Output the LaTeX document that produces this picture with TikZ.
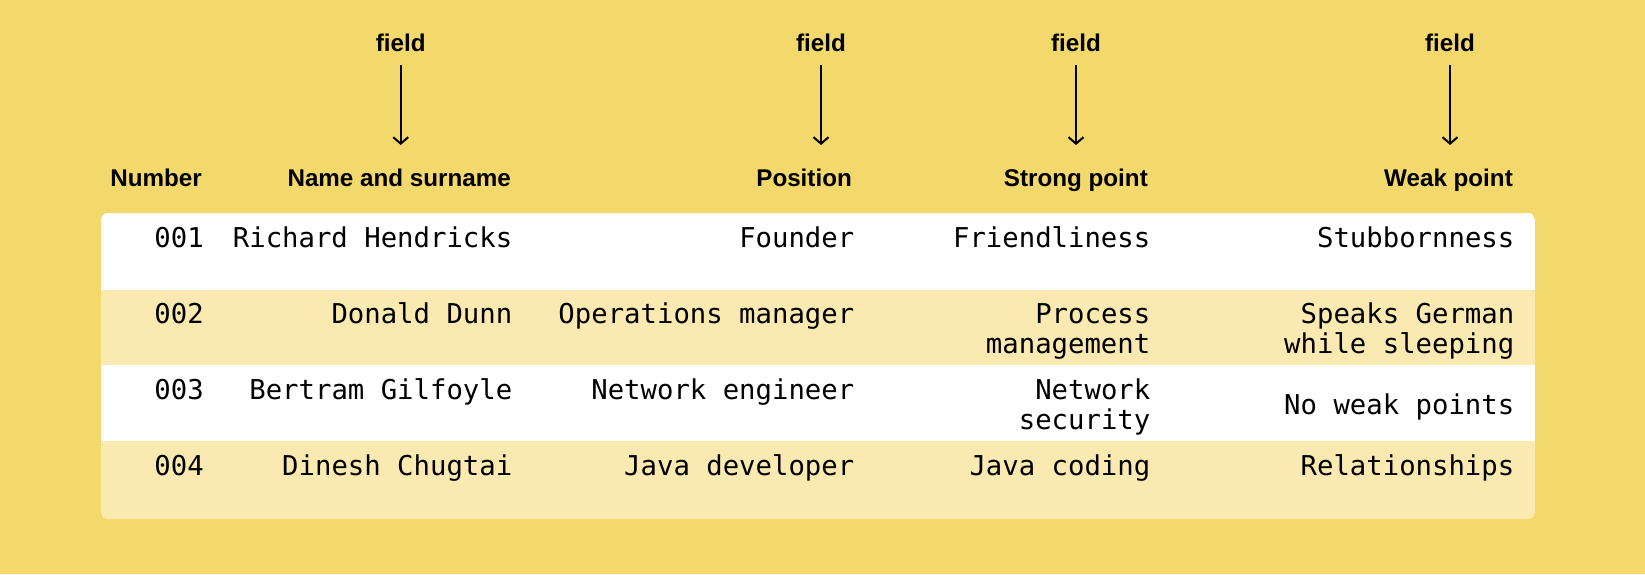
\documentclass[tikz,border=0pt]{standalone}
\usepackage{fontspec}
\setmainfont{Liberation Sans}
\newfontfamily\monof{DejaVu Sans Mono}
\usetikzlibrary{arrows.meta}
\definecolor{bgyellow}{HTML}{F3D86B}
\definecolor{rowlight}{HTML}{FAE9B0}
\begin{document}
\begin{tikzpicture}[x=1pt,y=-1pt,
  hdr/.style={font=\fontsize{24.2}{26}\selectfont\bfseries, inner sep=0pt, anchor=base east},
  fieldlbl/.style={font=\fontsize{24.2}{26}\selectfont\bfseries, inner sep=0pt, anchor=base},
  cell/.style={font=\monof\fontsize{27.3}{30.5}\selectfont, inner sep=0pt, anchor=base east, xshift=2.5pt},
  arr/.style={line width=2pt, -{Straight Barb[length=6.5pt,width=15pt,line width=2pt]}, shorten <=13.3pt}
]
\useasboundingbox (0,0) rectangle (1645,574);
\fill[bgyellow] (0,0) rectangle (1645,574);

% table rows
\begin{scope}
  \clip[rounded corners=7pt] (101,213) rectangle (1535,519);
  \fill[white]    (101,213)    rectangle (1535,289.5);
  \fill[rowlight] (101,289.5)  rectangle (1535,365);
  \fill[white]    (101,365)    rectangle (1535,441);
  \fill[rowlight] (101,441)    rectangle (1535,519);
\end{scope}

% field labels and arrows
\node[fieldlbl] (f1) at (400.7,51.7) {field};
\node[fieldlbl] (f2) at (821,51.7) {field};
\node[fieldlbl] (f3) at (1076,51.7) {field};
\node[fieldlbl] (f4) at (1450,51.7) {field};
\coordinate (e1) at (400.7,145);
\coordinate (e2) at (821,145);
\coordinate (e3) at (1076,145);
\coordinate (e4) at (1450,145);
\draw[arr] (f1.south) -- (e1);
\draw[arr] (f2.south) -- (e2);
\draw[arr] (f3.south) -- (e3);
\draw[arr] (f4.south) -- (e4);

% headers
\node[hdr] (hnum) at (202,186.7) {Number};
\node[hdr] (hname) at (511,186.7) {Name and surname};
\node[hdr] (hpos) at (852,186.7) {Position};
\node[hdr] (hstr) at (1148,186.7) {Strong point};
\node[hdr] (hweak) at (1513,186.7) {Weak point};

% row 1
\node[cell] (r1a) at (201.5,247.5) {001};
\node[cell] (r1b) at (510,247.5) {Richard Hendricks};
\node[cell] (r1c) at (852,247.5) {Founder};
\node[cell] (r1d) at (1148,247.5) {Friendliness};
\node[cell] (r1e) at (1512,247.5) {Stubbornness};

% row 2
\node[cell] (r2a) at (201.5,323) {002};
\node[cell] (r2b) at (510,323) {Donald Dunn};
\node[cell] (r2c) at (852,323) {Operations manager};
\node[cell] (r2d) at (1148,323) {\begin{tabular}[t]{@{}r@{}}Process\\management\end{tabular}};
\node[cell] (r2e) at (1512,323) {\begin{tabular}[t]{@{}r@{}}Speaks German\\while sleeping\end{tabular}};

% row 3
\node[cell] (r3a) at (201.5,399.3) {003};
\node[cell] (r3b) at (510,399.3) {Bertram Gilfoyle};
\node[cell] (r3c) at (852,399.3) {Network engineer};
\node[cell] (r3d) at (1148,399.3) {\begin{tabular}[t]{@{}r@{}}Network\\security\end{tabular}};
\node[cell] (r3e) at (1512,414.5) {No weak points};

% row 4
\node[cell] (r4a) at (201.5,475) {004};
\node[cell] (r4b) at (510,475) {Dinesh Chugtai};
\node[cell] (r4c) at (852,475) {Java developer};
\node[cell] (r4d) at (1148,475) {Java coding};
\node[cell] (r4e) at (1512,475) {Relationships};
\end{tikzpicture}
\end{document}
